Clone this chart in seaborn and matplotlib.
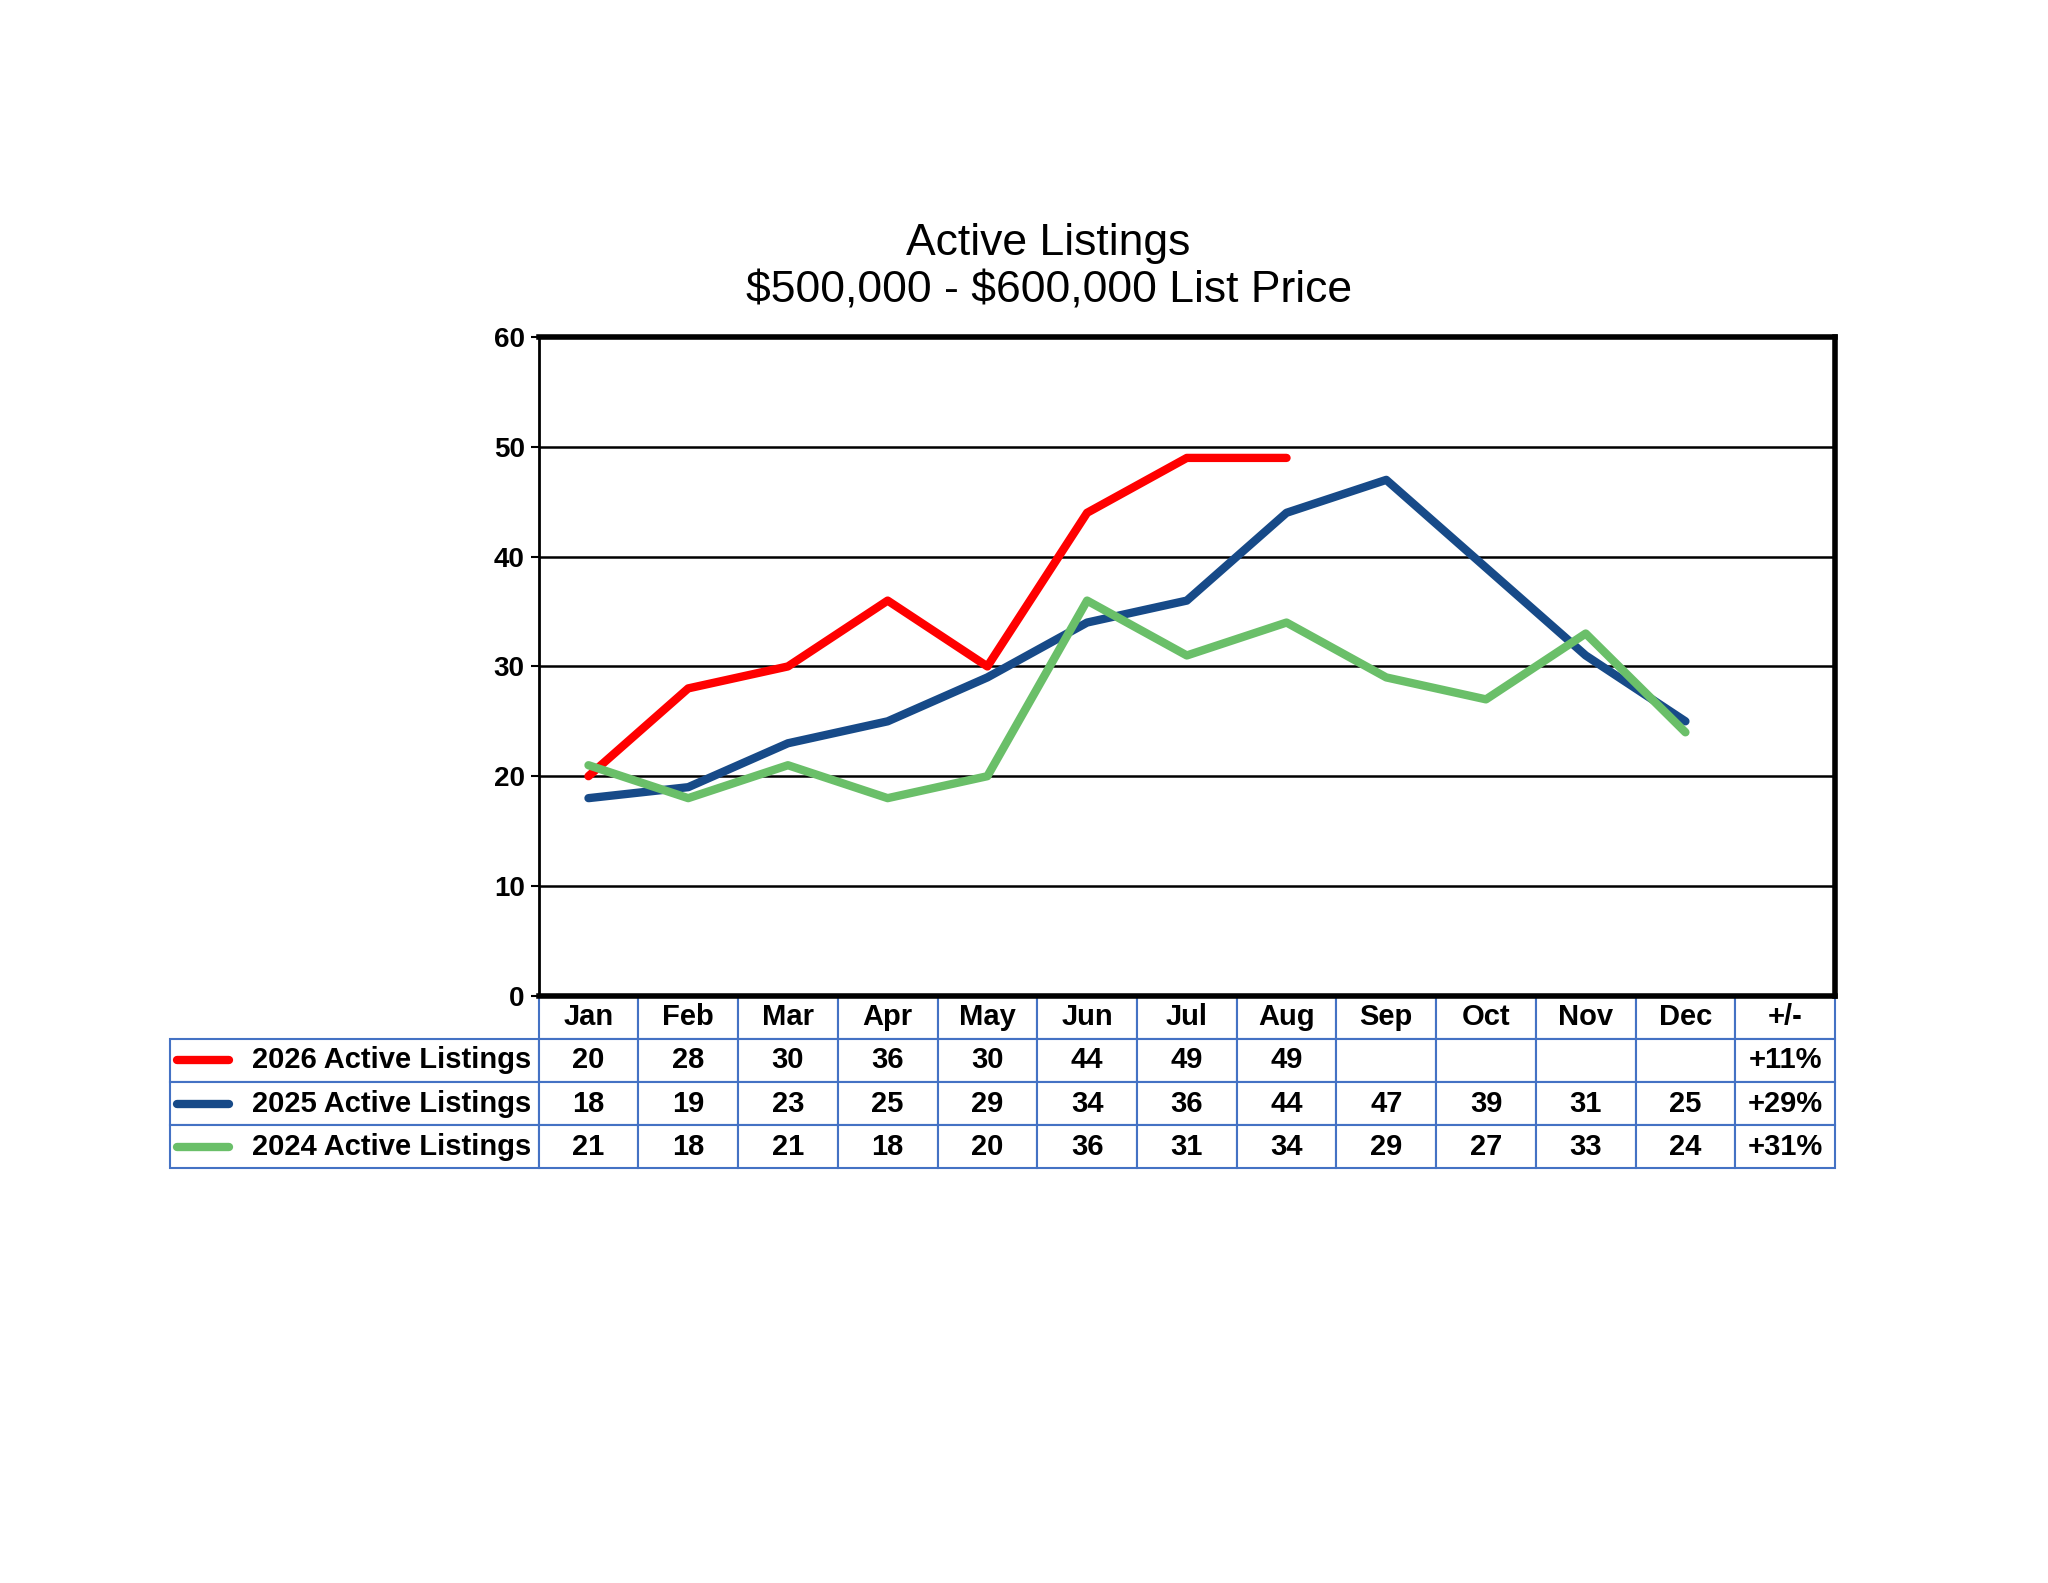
import matplotlib
matplotlib.use("Agg")
import matplotlib.pyplot as plt
import seaborn as sns
import numpy as np
import pandas as pd
from matplotlib.lines import Line2D

months = ["Jan", "Feb", "Mar", "Apr", "May", "Jun", "Jul", "Aug", "Sep", "Oct", "Nov", "Dec"]
listings_2026 = [20, 28, 30, 36, 30, 44, 49, 49]
listings_2025 = [18, 19, 23, 25, 29, 34, 36, 44, 47, 39, 31, 25]
listings_2024 = [21, 18, 21, 18, 20, 36, 31, 34, 29, 27, 33, 24]
changes = ["+11%", "+29%", "+31%"]
series_names = ["2026 Active Listings", "2025 Active Listings", "2024 Active Listings"]
colors = ["#ff0000", "#174a88", "#6abf69"]

sns.set_theme(style="white")
plt.rcParams["font.family"] = ["Liberation Sans", "DejaVu Sans"]
plt.rcParams["text.color"] = "black"
plt.rcParams["ytick.color"] = "black"

fig = plt.figure(figsize=(20.48, 15.83), dpi=100)
ax = fig.add_axes([0.263, 0.371, 0.633, 0.416])

rows = []
for name, vals in zip(series_names, [listings_2026, listings_2025, listings_2024]):
    for i, v in enumerate(vals):
        rows.append({"series": name, "x": i, "value": v})
df = pd.DataFrame(rows)
sns.lineplot(data=df, x="x", y="value", hue="series", palette=colors,
             linewidth=6, ax=ax, legend=False, zorder=3)

ax.set_xlim(-0.5, 12.5)
ax.set_ylim(0, 60)
ax.set_yticks(range(0, 61, 10))
ax.set_xticks([])
ax.set_xlabel("")
ax.set_ylabel("")
ax.grid(axis="y", color="black", linewidth=1.8)
for s in ax.spines.values():
    s.set_linewidth(4)
    s.set_color("black")
ax.spines["left"].set_linewidth(2)
ax.tick_params(axis="y", labelsize=20, length=6, width=1.5, left=True, pad=4)
for t in ax.get_yticklabels():
    t.set_fontweight("bold")

fig.text(0.512, 0.803, "Active Listings\n\\$500,000 - \\$600,000 List Price",
         fontsize=32, ha="center", va="bottom", linespacing=1.2)

# data table below the plot
label_w = 282 / 993
cell_text = [[""] + months + ["+/-"]]
for name, vals, ch in zip(series_names, [listings_2026, listings_2025, listings_2024], changes):
    cell_text.append([name] + [str(v) for v in vals] + [""] * (12 - len(vals)) + [ch])
row_h = 33 / 504
col_w = [label_w] + [1 / 13] * 13
tbl = ax.table(cellText=cell_text, colWidths=col_w, cellLoc="center",
               bbox=[-label_w, -4 * row_h, 1 + label_w, 4 * row_h])
tbl.auto_set_font_size(False)
for (r, c), cell in tbl.get_celld().items():
    cell.set_edgecolor("#4472c4")
    cell.set_linewidth(1.5)
    cell.get_text().set_fontsize(21)
    cell.get_text().set_fontweight("bold")
    cell.get_text().set_color("black")
    if c == 0:
        cell.get_text().set_ha("right")
        cell.PAD = 0.02
    if r == 0 and c == 0:
        cell.set_edgecolor("white")
        cell.set_linewidth(0)

for i, col in enumerate(colors):
    y = -(i + 1.5) * row_h
    ax.add_line(Line2D([-label_w + 0.005, -label_w + 0.045], [y, y], color=col,
                       linewidth=6, transform=ax.transAxes, clip_on=False,
                       solid_capstyle="round"))

fig.savefig("out.png", dpi=100, facecolor="white")
